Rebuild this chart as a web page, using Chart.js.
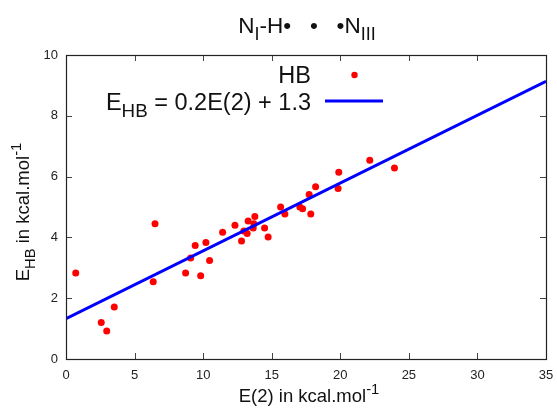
<!DOCTYPE html>
<html>
<head>
<meta charset="utf-8">
<script src="https://cdn.jsdelivr.net/npm/chart.js@4.4.1/dist/chart.umd.min.js"></script>
<style>
  html, body { margin: 0; padding: 0; background: #fff; }
  canvas { display: block; }
</style>
</head>
<body>
<canvas id="graficaHB" width="557" height="408"></canvas>
<script>
// E(2) second-order energies and hydrogen bond energies, kcal/mol
var e2Values = [0.71, 2.57, 2.97, 3.52, 6.36, 6.49, 8.72, 9.09, 9.42, 9.82,
                10.20, 10.47, 11.42, 12.32, 12.80, 12.97, 13.21, 13.28, 13.65, 13.70,
                13.77, 14.48, 14.74, 15.65, 15.96, 17.05, 17.25, 17.73, 17.85, 18.20,
                19.84, 19.89, 22.15, 23.95];
var ehbValues = [2.83, 1.20, 0.92, 1.71, 2.54, 4.45, 2.83, 3.32, 3.73, 2.74,
                 3.83, 3.24, 4.17, 4.40, 3.88, 4.21, 4.13, 4.54, 4.31, 4.45,
                 4.69, 4.31, 4.01, 5.00, 4.77, 5.00, 4.94, 5.41, 4.77, 5.67,
                 5.61, 6.14, 6.54, 6.28];

// linear fit E_HB = a*E(2) + b
var fitSlope = 0.223;
var fitIntercept = 1.33;

var xTicks = [0, 5, 10, 15, 20, 25, 30, 35];
var yTicks = [0, 2, 4, 6, 8, 10];

var FONT = "'Liberation Sans', Arial, sans-serif";

document.addEventListener("DOMContentLoaded", function (event) {
  draw_chart();
});

//----------------------------------------------------------------------------
// text with sub/superscripts: parts = [{t:'E'}, {t:'HB', sub:true}, ...]
function richWidth(ctx, parts, size) {
  var w = 0;
  for (var i = 0; i < parts.length; i++) {
    var p = parts[i];
    var s = (p.sub || p.sup) ? size * 0.8 : size;
    ctx.font = s + "px " + FONT;
    w += ctx.measureText(p.t).width;
  }
  return w;
}

function drawRich(ctx, parts, x, y, size, align) {
  var w = richWidth(ctx, parts, size);
  var cx = x;
  if (align === 'center') cx = x - w / 2;
  if (align === 'right') cx = x - w;
  ctx.textBaseline = 'alphabetic';
  ctx.textAlign = 'left';
  for (var i = 0; i < parts.length; i++) {
    var p = parts[i];
    var s = (p.sub || p.sup) ? size * 0.8 : size;
    var dy = p.sub ? size * 0.3 : (p.sup ? -size * 0.42 : 0);
    ctx.font = s + "px " + FONT;
    ctx.fillText(p.t, cx, y + dy);
    cx += ctx.measureText(p.t).width;
  }
}

// box around the plot with inward ticks on every side
var framePlugin = {
  id: 'frame',
  afterDatasetsDraw: function (chart) {
    var ctx = chart.ctx;
    var a = chart.chartArea;
    var xs = chart.scales.x, ys = chart.scales.y;
    var tl = 6;
    ctx.save();
    ctx.strokeStyle = '#444';
    ctx.lineWidth = 1;
    ctx.beginPath();
    xTicks.forEach(function (v) {
      var px = Math.round(xs.getPixelForValue(v)) + 0.5;
      ctx.moveTo(px, a.bottom); ctx.lineTo(px, a.bottom - tl);
      ctx.moveTo(px, a.top); ctx.lineTo(px, a.top + tl);
    });
    yTicks.forEach(function (v) {
      var py = Math.round(ys.getPixelForValue(v)) + 0.5;
      ctx.moveTo(a.left, py); ctx.lineTo(a.left + tl, py);
      ctx.moveTo(a.right, py); ctx.lineTo(a.right - tl, py);
    });
    ctx.stroke();
    ctx.strokeStyle = '#222';
    ctx.lineWidth = 1.2;
    ctx.strokeRect(Math.round(a.left) + 0.5, Math.round(a.top) + 0.5,
                   Math.round(a.right - a.left), Math.round(a.bottom - a.top));
    ctx.restore();
  }
};

// title, axis titles and the key inside the plot
var textPlugin = {
  id: 'textos',
  afterDraw: function (chart) {
    var ctx = chart.ctx;
    ctx.save();
    ctx.fillStyle = '#111';

    drawRich(ctx, [{t: 'N'}, {t: 'I', sub: true}, {t: '-H\u2022   \u2022   \u2022N'}, {t: 'III', sub: true}],
             307, 33, 22.5, 'center');

    drawRich(ctx, [{t: 'E(2) in kcal.mol'}, {t: '-1', sup: true}], 309, 402, 18.5, 'center');

    ctx.save();
    ctx.translate(29, 212);
    ctx.rotate(-Math.PI / 2);
    drawRich(ctx, [{t: 'E'}, {t: 'HB', sub: true}, {t: ' in kcal.mol'}, {t: '-1', sup: true}], 0, 0, 18.5, 'center');
    ctx.restore();

    // key
    drawRich(ctx, [{t: 'HB'}], 311, 83, 23.5, 'right');
    ctx.fillStyle = '#ff0000';
    ctx.beginPath();
    ctx.arc(354.5, 75, 3.2, 0, Math.PI * 2);
    ctx.fill();

    ctx.fillStyle = '#111';
    drawRich(ctx, [{t: 'E'}, {t: 'HB', sub: true},
                   {t: ' = ' + fitSlope.toFixed(1) + 'E(2) + ' + fitIntercept.toFixed(1)}],
             311, 110, 23.5, 'right');
    ctx.strokeStyle = '#0000ff';
    ctx.lineWidth = 3;
    ctx.beginPath();
    ctx.moveTo(325, 101);
    ctx.lineTo(383, 101);
    ctx.stroke();
    ctx.restore();
  }
};

function draw_chart() {
  var puntos = [];
  for (var i = 0; i < e2Values.length; i++) {
    puntos.push({x: e2Values[i], y: ehbValues[i]});
  }
  var xMin = xTicks[0], xMax = xTicks[xTicks.length - 1];
  var recta = [
    {x: xMin, y: fitSlope * xMin + fitIntercept},
    {x: xMax, y: fitSlope * xMax + fitIntercept}
  ];

  var canvas = document.getElementById('graficaHB');
  var myChart = new Chart(canvas, {
    type: 'scatter',
    data: {
      datasets: [{
        type: 'line',
        label: 'fit',
        data: recta,
        borderColor: '#0000ff',
        borderWidth: 3,
        pointRadius: 0,
        fill: false,
        order: 0
      }, {
        label: 'HB',
        data: puntos,
        backgroundColor: '#ff0000',
        borderColor: '#ff0000',
        borderWidth: 0,
        pointRadius: 3.5,
        pointHoverRadius: 3.5,
        order: 1
      }]
    },
    options: {
      responsive: false,
      animation: false,
      events: [],
      layout: { padding: { top: 55, right: 11, left: 0, bottom: 0 } },
      plugins: {
        legend: { display: false },
        tooltip: { enabled: false },
        title: { display: false }
      },
      scales: {
        x: {
          type: 'linear',
          min: xMin,
          max: xMax,
          afterBuildTicks: function (s) { s.ticks = xTicks.map(function (v) { return {value: v}; }); },
          ticks: { font: { family: FONT, size: 13 }, color: '#222', padding: 9, maxRotation: 0 },
          grid: { display: false, drawTicks: false },
          border: { display: false },
          afterFit: function (s) { s.height = 49; s.paddingRight = 0; s.paddingLeft = 0; }
        },
        y: {
          type: 'linear',
          min: yTicks[0],
          max: yTicks[yTicks.length - 1],
          afterBuildTicks: function (s) { s.ticks = yTicks.map(function (v) { return {value: v}; }); },
          ticks: { font: { family: FONT, size: 13 }, color: '#222', padding: 8 },
          grid: { display: false, drawTicks: false },
          border: { display: false },
          afterFit: function (s) { s.width = 66; s.paddingTop = 0; s.paddingBottom = 0; }
        }
      }
    },
    plugins: [framePlugin, textPlugin]
  });
}
</script>
</body>
</html>
